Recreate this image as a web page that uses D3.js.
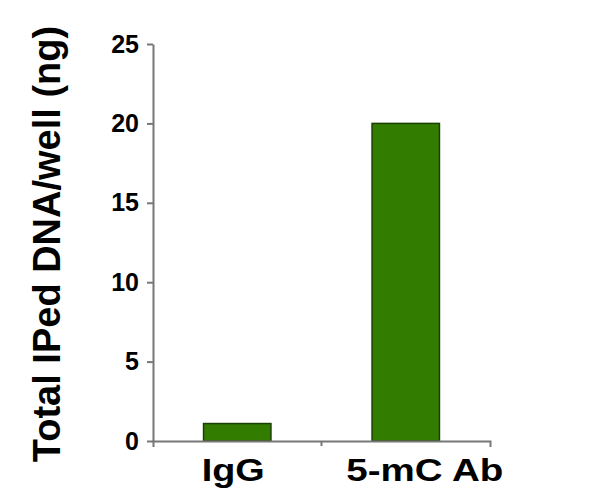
<!DOCTYPE html>
<html>
<head>
<meta charset="utf-8">
<script src="https://cdn.jsdelivr.net/npm/d3@7"></script>
<style>
  body { margin: 0; background: #fff; }
  svg { display: block; font-family: "Liberation Sans", Arial, sans-serif; font-weight: bold; }
</style>
</head>
<body>
<div id="chart"></div>
<script>
var categories = ['IgG', '5-mC Ab'];
var values = [1.1, 20];
var yTicks = [0, 5, 10, 15, 20, 25];
var yTitle = 'Total IPed DNA/well (ng)';

var width = 600, height = 499;
var plotLeft = 153, plotRight = 490, plotTop = 44, plotBottom = 441;

var svg = d3.select('#chart').append('svg')
	.attr('width', width).attr('height', height);

var x = d3.scaleBand().domain(categories).range([plotLeft, plotRight]);
var y = d3.scaleLinear().domain([0, 25]).range([plotBottom, plotTop]);

// bars
var barW = x.bandwidth() * 0.4;
svg.selectAll('rect.bar')
	.data(values)
	.enter().append('rect')
	.attr('class', 'bar')
	.attr('x', function(d, i) { return x(categories[i]) + (x.bandwidth() - barW) / 2; })
	.attr('y', function(d) { return y(d); })
	.attr('width', barW)
	.attr('height', function(d) { return y(0) - y(d); })
	.attr('fill', '#327d00')
	.attr('stroke', '#1c3f06')
	.attr('stroke-width', 1.5);

// y axis
var yAxis = svg.append('g')
	.attr('transform', 'translate(' + plotLeft + ',0)')
	.call(d3.axisLeft(y).tickValues(yTicks).tickSizeInner(6).tickSizeOuter(0).tickPadding(8));
yAxis.selectAll('text')
	.attr('fill', '#000')
	.style('font-size', '25px')
	.style('font-weight', 'bold');

// x axis, ticks sit between categories
var xAxis = svg.append('g')
	.attr('transform', 'translate(0,' + plotBottom + ')')
	.call(d3.axisBottom(x).tickSizeInner(0).tickSizeOuter(6).tickPadding(0));
xAxis.selectAll('.tick text').remove();
xAxis.selectAll('line.between')
	.data(categories.slice(1))
	.enter().append('line')
	.attr('class', 'between')
	.attr('x1', function(d) { return x(d); })
	.attr('x2', function(d) { return x(d); })
	.attr('y1', 0).attr('y2', 5)
	.attr('stroke', '#777').attr('stroke-width', 2);

svg.selectAll('.domain, .tick line')
	.attr('stroke', '#777')
	.attr('stroke-width', 2);

// category labels, nudged to where they sit in the original
var nudge = { 'IgG': -4, '5-mC Ab': 19 };
var stretch = { 'IgG': 63, '5-mC Ab': 157 };
svg.selectAll('text.cat')
	.data(categories)
	.enter().append('text')
	.attr('class', 'cat')
	.attr('x', function(d) { return x(d) + x.bandwidth() / 2 + nudge[d] - stretch[d] / 2; })
	.attr('y', 481)
	.attr('textLength', function(d) { return stretch[d]; })
	.attr('lengthAdjust', 'spacingAndGlyphs')
	.style('font-size', '32px')
	.text(function(d) { return d; });

// y title
svg.append('text')
	.attr('transform', 'translate(60,244) rotate(-90)')
	.attr('text-anchor', 'middle')
	.style('font-size', '38px')
	.text(yTitle);
</script>
</body>
</html>
